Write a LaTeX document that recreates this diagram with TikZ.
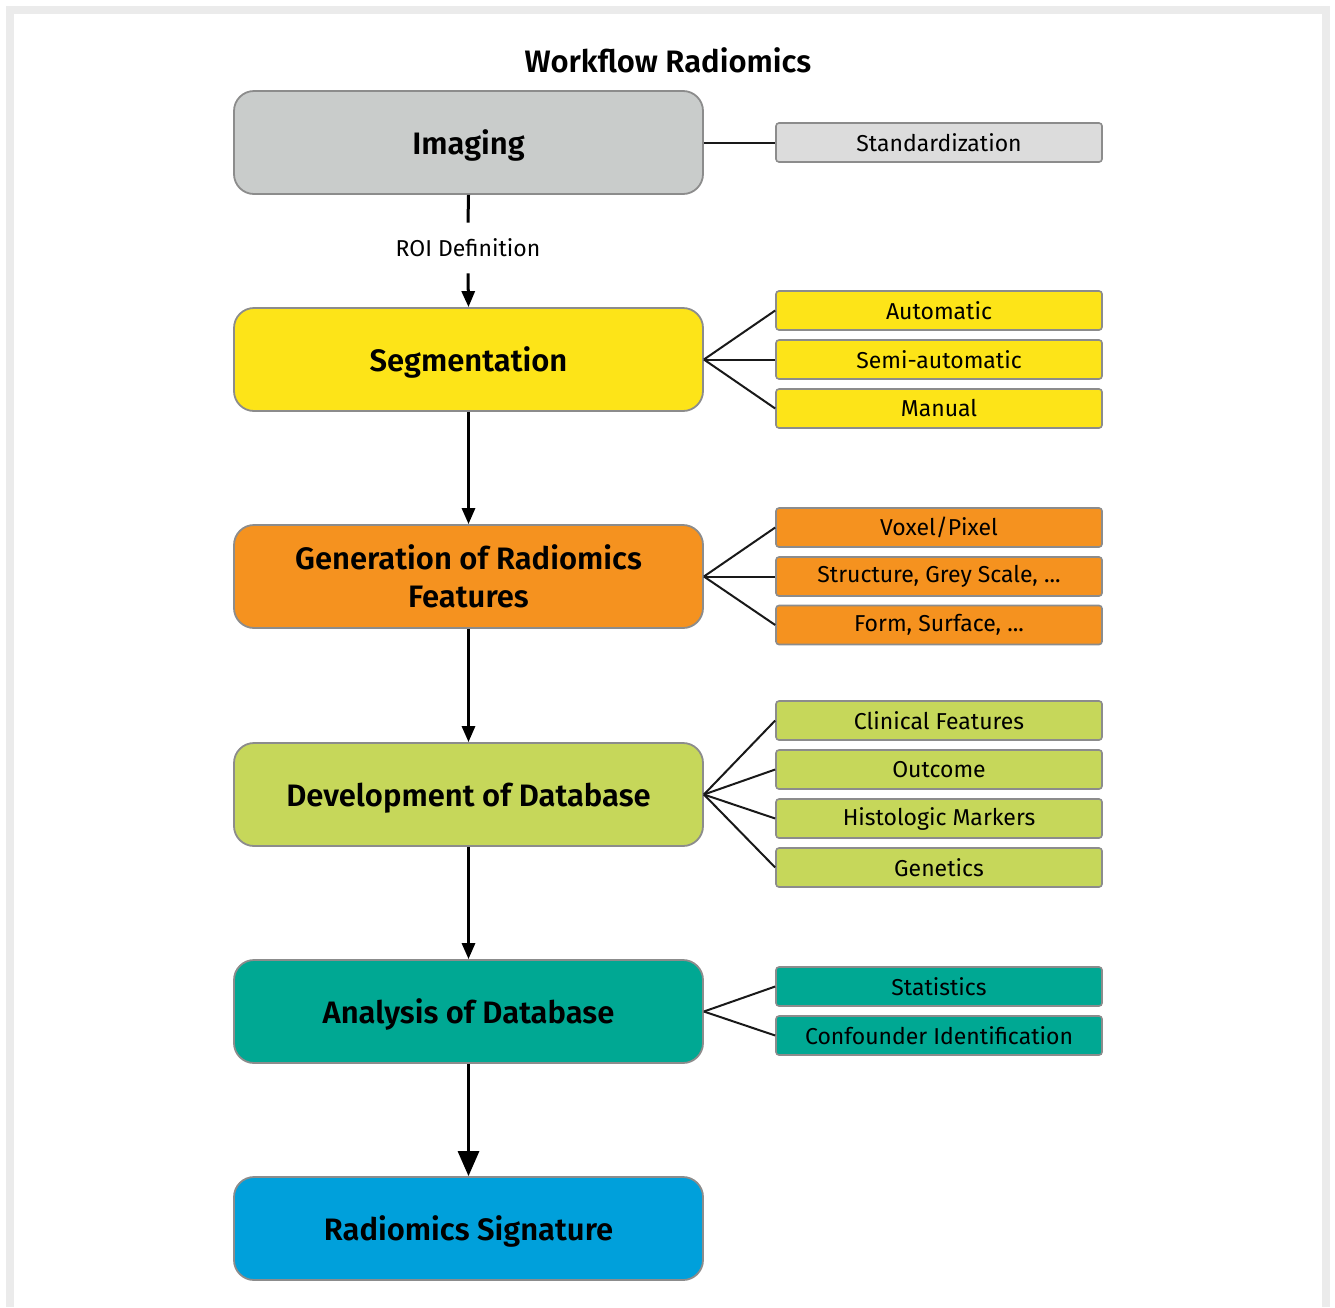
\documentclass[tikz,border=0pt]{standalone}
\usepackage{fontspec}
\setmainfont{Fira Sans}[BoldFont={Fira Sans SemiBold}]
\usetikzlibrary{arrows.meta}
\definecolor{frameg}{HTML}{EBEBEB}
\definecolor{edgeg}{HTML}{8C8C8C}
\definecolor{cimg}{HTML}{C9CCCB}
\definecolor{cstd}{HTML}{DCDCDC}
\definecolor{cseg}{HTML}{FDE418}
\definecolor{cgen}{HTML}{F5921F}
\definecolor{cdev}{HTML}{C6D75A}
\definecolor{cana}{HTML}{00A893}
\definecolor{csig}{HTML}{00A0DB}
\tikzset{
  mainbox/.style={draw=edgeg, line width=1.8pt, rounded corners=20pt, minimum width=469pt, minimum height=103pt, inner sep=0pt, align=center, font=\fontsize{31}{38}\selectfont\bfseries},
  oneline/.style={text depth=0pt},
  subbox/.style={draw=edgeg, line width=1.6pt, rounded corners=3pt, minimum width=326pt, minimum height=39pt, inner sep=0pt, font=\fontsize{23}{28}\selectfont},
  fan/.style={line width=2pt, black!90},
  flow/.style={line width=3pt, black, -{Triangle[width=13pt,length=16pt]}},
  bigflow/.style={line width=3pt, black, -{Triangle[width=21pt,length=25pt]}}
}
\begin{document}
\begin{tikzpicture}[x=1pt,y=-1pt]
\useasboundingbox (0,0) rectangle (1335,1307);
\fill[white] (0,0) rectangle (1335,1307);
\draw[frameg, line width=8pt] (10,1307) -- (10,10) -- (1326,10) -- (1326,1307);

\node[font=\fontsize{31}{36}\selectfont\bfseries] (title) at (668,60) {Workflow Radiomics};

\node[mainbox, oneline, fill=cimg] (img) at (468.5,142.5) {Imaging};
\node[mainbox, oneline, fill=cseg] (seg) at (468.5,359.5) {Segmentation};
\node[mainbox, fill=cgen] (gen) at (468.5,576.5) {Generation of Radiomics\\Features};
\node[mainbox, oneline, fill=cdev] (dev) at (468.5,794.5) {Development of Database};
\node[mainbox, oneline, fill=cana] (ana) at (468.5,1011.5) {Analysis of Database};
\node[mainbox, oneline, fill=csig] (sig) at (468.5,1228.5) {Radiomics Signature};

\node[font=\fontsize{23}{28}\selectfont, inner ysep=16pt, inner xsep=0pt] (roi) at (468,248) {ROI Definition};

\node[subbox, fill=cstd] (std) at (939,142.5) {Standardization};
\node[subbox, fill=cseg] (aut) at (939,310.5) {Automatic};
\node[subbox, fill=cseg] (sem) at (939,359.5) {Semi-automatic};
\node[subbox, fill=cseg] (man) at (939,408.5) {Manual};
\node[subbox, fill=cgen] (vox) at (939,527.5) {Voxel/Pixel};
\node[subbox, fill=cgen] (str) at (939,576.5) {Structure, Grey Scale, ...};
\node[subbox, fill=cgen] (frm) at (939,625) {Form, Surface, ...};
\node[subbox, fill=cdev] (cli) at (939,720.5) {Clinical Features};
\node[subbox, fill=cdev] (out) at (939,769.5) {Outcome};
\node[subbox, fill=cdev] (his) at (939,818.5) {Histologic Markers};
\node[subbox, fill=cdev] (gnt) at (939,867.5) {Genetics};
\node[subbox, fill=cana] (sta) at (939,986.5) {Statistics};
\node[subbox, fill=cana] (con) at (939,1035.5) {Confounder Identification};

\draw[fan] (img.east) -- (std.west);
\foreach \t in {aut,sem,man} \draw[fan] (seg.east) -- (\t.west);
\foreach \t in {vox,str,frm} \draw[fan] (gen.east) -- (\t.west);
\foreach \t in {cli,out,his,gnt} \draw[fan] (dev.east) -- (\t.west);
\foreach \t in {sta,con} \draw[fan] (ana.east) -- (\t.west);

\draw[line width=3pt] (img.south) -- (roi.north);
\draw[flow] (roi.south) -- (seg.north);
\draw[flow] (seg.south) -- (gen.north);
\draw[flow] (gen.south) -- (dev.north);
\draw[flow] (dev.south) -- (ana.north);
\draw[bigflow] (ana.south) -- (sig.north);
\end{tikzpicture}
\end{document}
